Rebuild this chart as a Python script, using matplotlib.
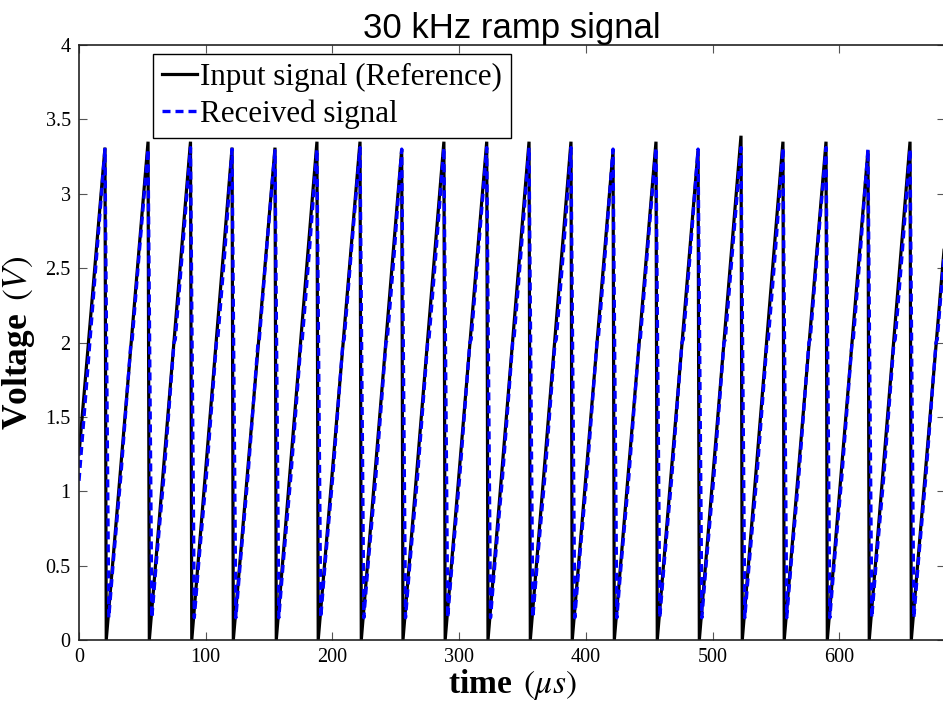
import matplotlib
matplotlib.use("Agg")
import matplotlib.pyplot as plt
import numpy as np

# ---------------- data ----------------
# times (µs) of the falling edges of the 30 kHz ramp (peak positions)
drop_t = [20.5, 54.5, 88.0, 120.8, 154.7, 187.8, 221.8, 254.7, 288.0, 321.8,
          355.2, 388.3, 421.5, 455.4, 488.6, 522.5, 555.6, 589.6, 622.7, 655.9]
# peak voltages of the reference (input) signal
ref_peak = [3.31, 3.35, 3.35, 3.31, 3.31, 3.35, 3.35, 3.30, 3.35, 3.35,
            3.35, 3.35, 3.29, 3.35, 3.29, 3.39, 3.35, 3.35, 3.29, 3.35]
# peak voltages of the received signal
rec_peak = [3.30, 3.30, 3.31, 3.30, 3.29, 3.30, 3.31, 3.30, 3.31, 3.31,
            3.31, 3.31, 3.30, 3.31, 3.30, 3.31, 3.31, 3.31, 3.30, 3.30]
# values at the left / right edge of the record
t_start, t_end = 0.0, 683.5
ref_start, ref_end = 1.25, 2.70
rec_start, rec_end = 1.07, 2.74
# reference: time after the edge where the ramp restarts from 0 V
ref_restart_dt, ref_low = 1.0, 0.0
# received signal: typical shape after each edge (delay in µs, level in V)
rec_shape_dt = [3.0, 6.5, 12.5, 20.5, 21.5, 27.0]
rec_shape_v = [0.15, 0.52, 1.10, 2.00, 2.02, 2.60]

xticks = [0, 100, 200, 300, 400, 500, 600]
yticks = [0, 0.5, 1, 1.5, 2, 2.5, 3, 3.5, 4]
ytick_labels = ["0", "0.5", "1", "1.5", "2", "2.5", "3", "3.5", "4"]

# ---------------- build the polylines ----------------
ref_t, ref_v = [t_start], [ref_start]
for t, p in zip(drop_t, ref_peak):
    ref_t += [t, t + ref_restart_dt]
    ref_v += [p, ref_low]
ref_t.append(t_end)
ref_v.append(ref_end)

rec_t, rec_v = [t_start], [rec_start]
for i, (t, p) in enumerate(zip(drop_t, rec_peak)):
    rec_t.append(t)
    rec_v.append(p)
    nxt = drop_t[i + 1] if i + 1 < len(drop_t) else t_end
    for dt, v in zip(rec_shape_dt, rec_shape_v):
        if t + dt < nxt:
            rec_t.append(t + dt)
            rec_v.append(v)
rec_t.append(t_end)
rec_v.append(rec_end)

# ---------------- figure ----------------
plt.rcParams["font.family"] = ["Liberation Serif", "DejaVu Serif"]
plt.rcParams["mathtext.fontset"] = "stix"

W, H = 943, 702
fig = plt.figure(figsize=(W / 100, H / 100), dpi=100)
ax = fig.add_axes([79 / W, 62 / H, (945 - 79) / W, 595 / H])

ax.plot(ref_t, ref_v, color="black", lw=2.3, label="Input signal (Reference)",
        solid_joinstyle="miter")
ax.plot(rec_t, rec_v, color="#0000ff", lw=2.4, linestyle=(0, (2.4, 1.5)),
        label="Received signal")

ax.set_xlim(t_start, t_end)
ax.set_ylim(0, 4)
ax.set_xticks(xticks)
ax.set_xticklabels([str(x) for x in xticks])
ax.set_yticks(yticks)
ax.set_yticklabels(ytick_labels)
ax.tick_params(direction="in", top=True, right=True, length=6, width=0.8,
               color="#555555", labelsize=14.5, pad=6)
for s in ax.spines.values():
    s.set_linewidth(1.2)
    s.set_color("#222222")

ax.set_xlabel(r"time $\,(\mu s)$", fontsize=24, fontweight="bold", labelpad=0)
ax.set_ylabel(r"Voltage $\,(V)$", fontsize=25.5, fontweight="bold", labelpad=6)
ax.set_title("30 kHz ramp signal", fontsize=25, family="Liberation Sans", pad=5)

leg = ax.legend(loc="upper left", bbox_to_anchor=(0.0855, 0.985), borderaxespad=0,
                fontsize=22.3, handlelength=1.12, handletextpad=0.1, borderpad=0.3,
                labelspacing=0.22, fancybox=False, framealpha=1, edgecolor="black")
leg.get_frame().set_linewidth(1.0)

fig.savefig("out.png", dpi=100)
